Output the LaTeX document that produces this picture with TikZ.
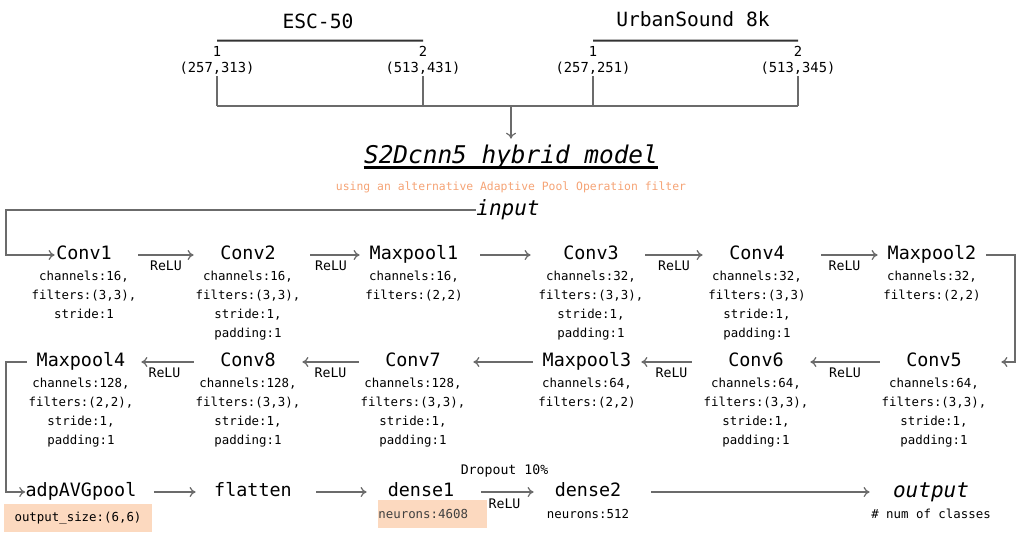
\documentclass[tikz,border=0pt]{standalone}
\usepackage{fontspec}
\setmainfont{DejaVu Sans Mono}
\usetikzlibrary{arrows.meta,calc}
\definecolor{LineClr}{rgb}{0.42,0.42,0.42}
\definecolor{NoteClr}{rgb}{0.96,0.64,0.46}
\definecolor{BoxClr}{rgb}{0.99,0.85,0.75}

\tikzset{
  layer/.style={font=\fontsize{9.2}{11}\selectfont,inner sep=0pt,minimum width=54pt,text height=6.8pt,text depth=1.9pt},
  info/.style={font=\fontsize{6.2}{9.5}\selectfont,align=center,inner sep=0pt,anchor=north},
  act/.style={font=\fontsize{6.6}{8}\selectfont,inner sep=0pt},
  dims/.style={font=\fontsize{6.9}{8}\selectfont,align=center,inner sep=1pt},
  dataset/.style={font=\fontsize{9.8}{12}\selectfont,inner sep=0pt},
  io/.style={font=\fontsize{10.5}{12}\selectfont\itshape,inner sep=0pt},
  sizebox/.style={fill=BoxClr,font=\fontsize{6.2}{8}\selectfont,inner sep=0pt,minimum height=14pt},
  flow/.style={-{To[length=3pt,width=5pt]},draw=LineClr,line width=0.6pt},
  wire/.style={draw=LineClr,line width=0.6pt},
}

\begin{document}
\begin{tikzpicture}[x=0.5pt,y=-0.5pt]
\useasboundingbox (0,0) rectangle (1024,558);

% datasets
\node[dataset] (esc) at (318,21) {ESC-50};
\node[dataset] (usd) at (693,19) {UrbanSound 8k};
\node[dims] (esc1) at (217,60) {1\\(257,313)};
\node[dims] (esc2) at (423,60) {2\\(513,431)};
\node[dims] (usd1) at (593,60) {1\\(257,251)};
\node[dims] (usd2) at (798,60) {2\\(513,345)};
\coordinate (merge) at (511,106);

\draw[line width=1pt,black!80] ([yshift=1.5pt]esc1.north) -- ([yshift=1.5pt]esc2.north);
\draw[line width=1pt,black!80] ([yshift=1.5pt]usd1.north) -- ([yshift=1.5pt]usd2.north);
\foreach \d in {esc1,esc2,usd1,usd2}
  \draw[wire] (\d.south) -- (\d.south |- merge);
\draw[wire,line width=1pt] (esc1.south |- merge) -- (usd2.south |- merge);

% model
\node[font=\fontsize{12.2}{14}\selectfont\itshape,inner sep=0pt] (model) at (511,157) {S2Dcnn5 hybrid model};
\draw[line width=1.5pt] ([yshift=-1.8pt]model.base west) -- ([yshift=-1.8pt]model.base east);
\draw[flow,shorten >=3pt] (merge) -- (model);
\node[font=\fontsize{5.7}{7}\selectfont,text=NoteClr,inner sep=0pt] (note) at (511,187) {using an alternative Adaptive Pool Operation filter};
\node[io] (input) at (508,210) {input};

% row 1
\node[layer] (conv1) at (84,255) {Conv1};
\node[layer] (conv2) at (248,255) {Conv2};
\node[layer] (mpool1) at (414,255) {Maxpool1};
\node[layer] (conv3) at (591,255) {Conv3};
\node[layer] (conv4) at (757,255) {Conv4};
\node[layer] (mpool2) at (932,255) {Maxpool2};
\node[info] (conv1i) at (84,271) {channels:16,\\filters:(3,3),\\stride:1};
\node[info] (conv2i) at (248,271) {channels:16,\\filters:(3,3),\\stride:1,\\padding:1};
\node[info] (mpool1i) at (414,271) {channels:16,\\filters:(2,2)};
\node[info] (conv3i) at (591,271) {channels:32,\\filters:(3,3),\\stride:1,\\padding:1};
\node[info] (conv4i) at (757,271) {channels:32,\\filters:(3,3)\\stride:1,\\padding:1};
\node[info] (mpool2i) at (932,271) {channels:32,\\filters:(2,2)};

% row 2
\node[layer] (conv5) at (934,362) {Conv5};
\node[layer] (conv6) at (756,362) {Conv6};
\node[layer] (mpool3) at (587,362) {Maxpool3};
\node[layer] (conv7) at (413,362) {Conv7};
\node[layer] (conv8) at (248,362) {Conv8};
\node[layer] (mpool4) at (81,362) {Maxpool4};
\node[info] (conv5i) at (934,378) {channels:64,\\filters:(3,3),\\stride:1,\\padding:1};
\node[info] (conv6i) at (756,378) {channels:64,\\filters:(3,3),\\stride:1,\\padding:1};
\node[info] (mpool3i) at (587,378) {channels:64,\\filters:(2,2)};
\node[info] (conv7i) at (413,378) {channels:128,\\filters:(3,3),\\stride:1,\\padding:1};
\node[info] (conv8i) at (248,378) {channels:128,\\filters:(3,3),\\stride:1,\\padding:1};
\node[info] (mpool4i) at (81,378) {channels:128,\\filters:(2,2),\\stride:1,\\padding:1};

% row 3
\node[layer] (adpool) at (81,492) {adpAVGpool};
\node[layer] (flat) at (253,492) {flatten};
\node[layer] (dense1) at (421,492) {dense1};
\node[layer] (dense2) at (588,492) {dense2};
\node[io,minimum width=54pt] (output) at (931,492) {output};
\node[sizebox,minimum width=74pt] (adpsize) at (78,518) {output\_size:(6,6)};
\node[sizebox,text width=54.5pt,align=left,anchor=west,text=black!75] (dense1n) at (378,514) {neurons:4608};
\node[info,anchor=center] (dense2n) at (588,514) {neurons:512};
\node[info,anchor=center] (classes) at (931,514) {\# num of classes};

\coordinate (turnI) at (6,230);
\coordinate (turnR) at (1015,310);
\coordinate (turnL) at (6,430);

\draw[flow,shorten >=-12.5pt] (input) -| (turnI) |- (conv1);
\draw[flow] (conv1) -- node[act,below=2.5pt] (relu1) {ReLU} (conv2);
\draw[flow,shorten <=4pt] (conv2) -- node[act,below=2.5pt] (relu2) {ReLU} (mpool1);
\draw[flow,shorten <=6pt,shorten >=3pt] (mpool1) -- (conv3);
\draw[flow] (conv3) -- node[act,below=2.5pt] (relu3) {ReLU} (conv4);
\draw[flow,shorten <=5pt] (conv4) -- node[act,below=2.5pt] (relu4) {ReLU} (mpool2);
\draw[flow,shorten >=6.5pt] (mpool2) -| (turnR) |- (conv5);

\draw[flow] (conv5) -- node[act,below=2.5pt] (relu5) {ReLU} (conv6);
\draw[flow,shorten <=5pt] (conv6) -- node[act,below=2.5pt] (relu6) {ReLU} (mpool3);
\draw[flow,shorten >=3pt] (mpool3) -- (conv7);
\draw[flow] (conv7) -- node[act,below=2.5pt] (relu7) {ReLU} (conv8);
\draw[flow,shorten >=3pt] (conv8) -- node[act,below=2.5pt] (relu8) {ReLU} (mpool4);
\draw[flow] (mpool4) -| (turnL) |- (adpool);

\draw[flow,shorten <=8.5pt,shorten >=1.5pt] (adpool) -- (flat);
\draw[flow,shorten <=4.5pt] (flat) -- (dense1);
\draw[flow,shorten <=3pt] (dense1) -- node[act,above=7pt] (drop) {Dropout 10\%} node[act,below=3pt] (relu9) {ReLU} (dense2);
\draw[flow,shorten <=4.5pt,shorten >=3.5pt] (dense2) -- (output);

\end{tikzpicture}
\end{document}
